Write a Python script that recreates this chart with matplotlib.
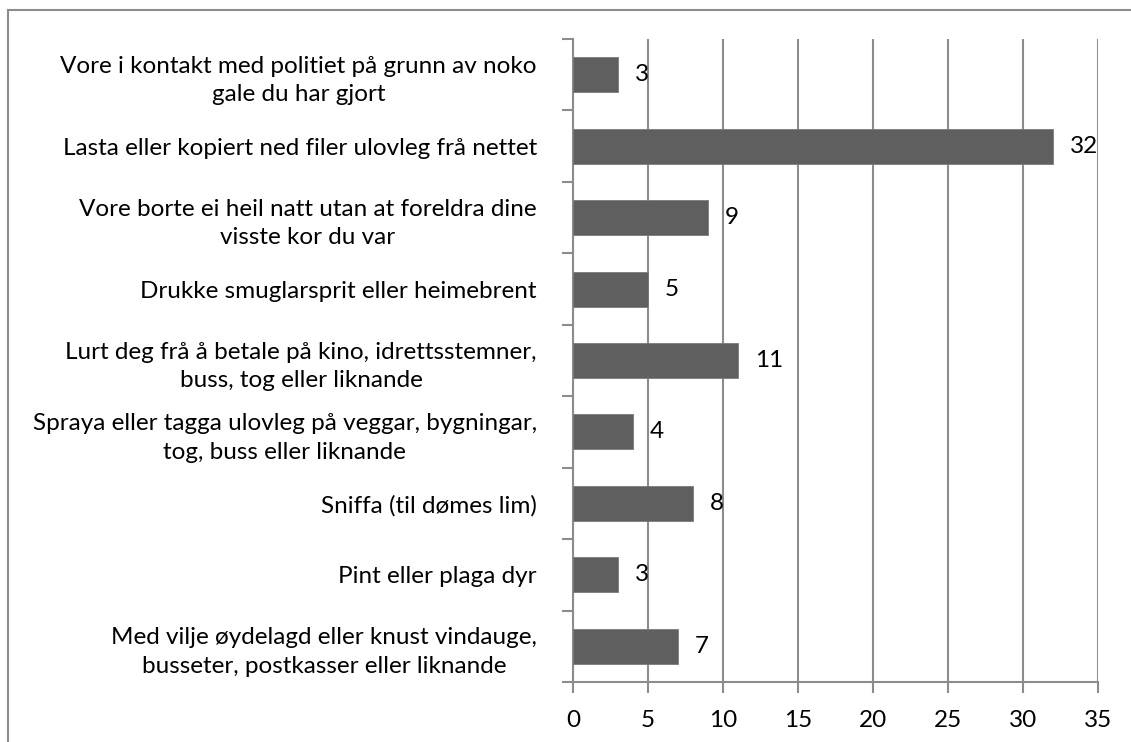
import numpy as np
import matplotlib.pyplot as plt
from matplotlib.patches import Rectangle

plt.rcParams['font.family'] = ['Lato', 'DejaVu Sans']

# Categories, top to bottom as in the chart
categories = [
    "Vore i kontakt med politiet på grunn av noko\ngale du har gjort",
    "Lasta eller kopiert ned filer ulovleg frå nettet",
    "Vore borte ei heil natt utan at foreldra dine\nvisste kor du var",
    "Drukke smuglarsprit eller heimebrent",
    "Lurt deg frå å betale på kino, idrettsstemner,\nbuss, tog eller liknande",
    "Spraya eller tagga ulovleg på veggar, bygningar,\ntog, buss eller liknande",
    "Sniffa (til dømes lim)",
    "Pint eller plaga dyr",
    "Med vilje øydelagd eller knust vindauge,\nbusseter, postkasser eller liknande",
]
values = [3, 32, 9, 5, 11, 4, 8, 3, 7]
x_ticks = [0, 5, 10, 15, 20, 25, 30, 35]

bar_color = '#5f5f5f'
line_color = '#8c8c8c'
fs = 17.5

fig = plt.figure(figsize=(11.31, 7.42), dpi=100)
ax = fig.add_axes([0.5066, 0.0809, 0.4642, 0.8665])

# outer chart border (cut off at the right and bottom in the reference)
fig.add_artist(Rectangle((8 / 1131, -0.1), 1.2, 1 - 10 / 742 + 0.1,
                         transform=fig.transFigure, fill=False,
                         edgecolor='#8c8c8c', linewidth=1.5))

n = len(categories)
y = np.arange(n)[::-1]
ax.barh(y, values, height=0.49, color=bar_color, edgecolor='#7a7a7a',
        linewidth=0.6, zorder=3)

for yi, v in zip(y, values):
    ax.annotate(str(v), (v, yi), xytext=(12, 0), textcoords='offset points',
                va='center', ha='left', fontsize=fs, color='black')

ax.set_xlim(0, 35)
ax.set_ylim(-0.5, n - 0.5)
ax.set_xticks(x_ticks)
ax.set_xticklabels([str(t) for t in x_ticks], fontsize=fs)
ax.xaxis.grid(True, color=line_color, linewidth=1.5, zorder=0)

ax.set_yticks(y)
ax.set_yticklabels(categories, fontsize=fs, ha='right', multialignment='center',
                   linespacing=1.45)
ax.tick_params(axis='y', which='major', length=0, pad=26)
ax.set_yticks(np.arange(n + 1) - 0.5, minor=True)
ax.tick_params(axis='y', which='minor', length=8, width=1.5, color=line_color)
ax.tick_params(axis='x', length=8, width=1.5, color=line_color, pad=12)

for s in ['top', 'right']:
    ax.spines[s].set_visible(False)
for s in ['left', 'bottom']:
    ax.spines[s].set_color(line_color)
    ax.spines[s].set_linewidth(1.5)

fig.savefig('out.png', dpi=100)
